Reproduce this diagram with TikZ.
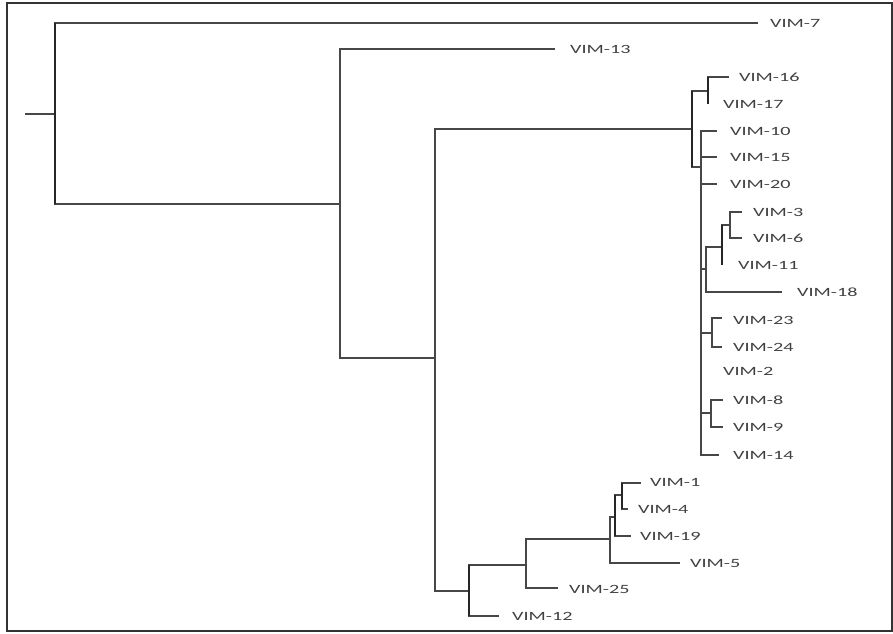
\documentclass[tikz,border=0pt]{standalone}
\usepackage{fontspec}
\usepackage{graphicx}
\setmainfont{Carlito}
\begin{document}
\begin{tikzpicture}[x=1pt,y=-1pt,
  branch/.style={draw=black!72, line width=1.1pt},
  heavybar/.style={draw=black!85, line width=2pt},
  lbl/.style={anchor=base west, inner sep=0pt, text=black!75,
              font=\fontsize{12.6}{14}\selectfont},
  frame/.style={draw=black!80, line width=1.3pt}]
\newcommand\vimtxt[1]{\scalebox{1.6}[1]{#1}}
\useasboundingbox (0,0) rectangle (893,633);
\draw[frame] (7,3) rectangle (892,631);

% internal nodes (x of the vertical bar, y where the parent joins)
\coordinate (r0) at (25,114);
\coordinate (nA) at (55,114);
\coordinate (nB) at (340,204);
\coordinate (nC) at (435,358);
\coordinate (nD) at (692,129);
\coordinate (nDa) at (708,91);
\coordinate (nE) at (701,167);
\coordinate (nF) at (706,269);
\coordinate (nG) at (722,247);
\coordinate (nH) at (730,225);
\coordinate (nP) at (712,333);
\coordinate (nQ) at (711,413);
\coordinate (nI) at (469,591);
\coordinate (nJ) at (526,565);
\coordinate (nK) at (610,539);
\coordinate (nL) at (615,517);
\coordinate (nM) at (622,495);

% branch tips
\coordinate (t7) at (758,23);
\coordinate (t13) at (555,49);
\coordinate (t16) at (729,77);
\coordinate (t17) at (708,104);
\coordinate (t10) at (717,131);
\coordinate (t15) at (717,157);
\coordinate (t20) at (717,184);
\coordinate (t3) at (742,212);
\coordinate (t6) at (742,238);
\coordinate (t11) at (722,265);
\coordinate (t18) at (782,292);
\coordinate (t23) at (722,318);
\coordinate (t24) at (722,347);
\coordinate (t8) at (723,400);
\coordinate (t9) at (723,427);
\coordinate (t14) at (719,455);
\coordinate (t1) at (641,483);
\coordinate (t4) at (628,509);
\coordinate (t19) at (631,536);
\coordinate (t5) at (680,563);
\coordinate (t25) at (558,588);
\coordinate (t12) at (499,616);

% branches
\draw[branch] (r0) -- (nA);
\draw[branch] (nA) |- (t7);
\draw[branch] (nA) |- (nB);
\draw[branch] (nB) |- (t13);
\draw[branch] (nB) |- (nC);
\draw[branch] (nC) |- (nD);
\draw[branch] (nC) |- (nI);
\draw[branch] (nD) |- (nDa);
\draw[branch] (nDa) |- (t16);
\draw[branch] (nDa) |- (t17);
\draw[branch] (nD) |- (nE);
\draw[branch] (nE) |- (t10);
\draw[branch] (nE) |- (t15);
\draw[branch] (nE) |- (t20);
\draw[branch] (nE) |- (nF);
\draw[branch] (nF) |- (nG);
\draw[branch] (nF) |- (t18);
\draw[branch] (nG) |- (nH);
\draw[branch] (nG) |- (t11);
\draw[branch] (nH) |- (t3);
\draw[branch] (nH) |- (t6);
\draw[branch] (nE) |- (nP);
\draw[branch] (nP) |- (t23);
\draw[branch] (nP) |- (t24);
\draw[branch] (nE) |- (nQ);
\draw[branch] (nQ) |- (t8);
\draw[branch] (nQ) |- (t9);
\draw[branch] (nE) |- (t14);
\draw[branch] (nI) |- (nJ);
\draw[branch] (nI) |- (t12);
\draw[branch] (nJ) |- (nK);
\draw[branch] (nJ) |- (t25);
\draw[branch] (nK) |- (nL);
\draw[branch] (nK) |- (t5);
\draw[branch] (nL) |- (nM);
\draw[branch] (nL) |- (t19);
\draw[branch] (nM) |- (t1);
\draw[branch] (nM) |- (t4);

% heavier vertical bars of the short inner branches
\draw[heavybar] (nA |- t7) -- (nA |- nB);
\draw[heavybar] (nD |- nDa) -- (nD |- nE);
\draw[heavybar] (nDa |- t16) -- (t17);
\draw[heavybar] (nG |- nH) -- (t11);
\draw[heavybar] (nI |- nJ) -- (nI |- t12);
\draw[heavybar] (nL |- nM) -- (nL |- t19);
\draw[heavybar] (nM |- t1) -- (nM |- t4);

% leaf labels
\node[lbl] (l7)  at (770,27)  {\vimtxt{VIM-7}};
\node[lbl] (l13) at (570,53)  {\vimtxt{VIM-13}};
\node[lbl] (l16) at (739,81)  {\vimtxt{VIM-16}};
\node[lbl] (l17) at (723,108) {\vimtxt{VIM-17}};
\node[lbl] (l10) at (730,135) {\vimtxt{VIM-10}};
\node[lbl] (l15) at (730,161) {\vimtxt{VIM-15}};
\node[lbl] (l20) at (730,188) {\vimtxt{VIM-20}};
\node[lbl] (l3)  at (753,216) {\vimtxt{VIM-3}};
\node[lbl] (l6)  at (753,242) {\vimtxt{VIM-6}};
\node[lbl] (l11) at (738,269) {\vimtxt{VIM-11}};
\node[lbl] (l18) at (797,296) {\vimtxt{VIM-18}};
\node[lbl] (l23) at (733,324) {\vimtxt{VIM-23}};
\node[lbl] (l24) at (733,351) {\vimtxt{VIM-24}};
\node[lbl] (l2)  at (723,375) {\vimtxt{VIM-2}};
\node[lbl] (l8)  at (733,404) {\vimtxt{VIM-8}};
\node[lbl] (l9)  at (733,431) {\vimtxt{VIM-9}};
\node[lbl] (l14) at (733,459) {\vimtxt{VIM-14}};
\node[lbl] (l1)  at (650,486) {\vimtxt{VIM-1}};
\node[lbl] (l4)  at (638,513) {\vimtxt{VIM-4}};
\node[lbl] (l19) at (640,540) {\vimtxt{VIM-19}};
\node[lbl] (l5)  at (690,567) {\vimtxt{VIM-5}};
\node[lbl] (l25) at (569,593) {\vimtxt{VIM-25}};
\node[lbl] (l12) at (512,620) {\vimtxt{VIM-12}};
\end{tikzpicture}
\end{document}
